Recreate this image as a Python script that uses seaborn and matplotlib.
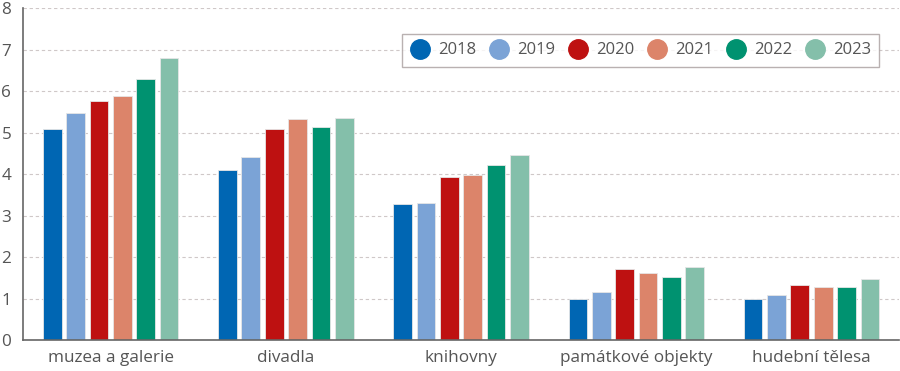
import matplotlib
matplotlib.use("Agg")
import matplotlib.pyplot as plt
from matplotlib.lines import Line2D
import seaborn as sns
import pandas as pd

categories = ["muzea a galerie", "divadla", "knihovny", "památkové objekty", "hudební tělesa"]
years = ["2018", "2019", "2020", "2021", "2022", "2023"]
values = {
    "2018": [5.08, 4.09, 3.28, 0.98, 0.99],
    "2019": [5.48, 4.40, 3.31, 1.16, 1.08],
    "2020": [5.76, 5.09, 3.94, 1.72, 1.32],
    "2021": [5.89, 5.33, 3.98, 1.61, 1.27],
    "2022": [6.30, 5.14, 4.21, 1.52, 1.28],
    "2023": [6.79, 5.34, 4.46, 1.77, 1.46],
}
colors = ["#0066b3", "#7ba3d6", "#be1111", "#dc846a", "#009270", "#84bfaa"]
yticks = [0, 1, 2, 3, 4, 5, 6, 7, 8]

rows = []
for y in years:
    for c, v in zip(categories, values[y]):
        rows.append({"kategorie": c, "rok": y, "hodnota": v})
df = pd.DataFrame(rows)

sns.set_theme(style="white")
plt.rcParams["font.family"] = ["Open Sans", "DejaVu Sans"]

fig = plt.figure(figsize=(9, 3.71), dpi=100)
ax = fig.add_axes([0.0256, 0.0836, 0.9734, 0.8944])

sns.barplot(data=df, x="kategorie", y="hodnota", hue="rok", order=categories,
            hue_order=years, palette=colors, width=0.8, gap=0.2, ax=ax,
            edgecolor="#e6e6e6", linewidth=0.6, legend=False, saturation=1)

ax.set_ylim(0, 8)
ax.set_yticks(yticks)
ax.set_xlim(-0.5, len(categories) - 0.5)
ax.set_xlabel("")
ax.set_ylabel("")
ax.yaxis.grid(True, linestyle=(0, (3, 2.5)), color="#cfc8c8", linewidth=0.8)
ax.set_axisbelow(True)
for s in ["top", "right"]:
    ax.spines[s].set_visible(False)
for s in ["left", "bottom"]:
    ax.spines[s].set_color("#666666")
    ax.spines[s].set_linewidth(1.2)
ax.tick_params(axis="both", length=0, labelsize=12.3, colors="#555555")
ax.tick_params(axis="x", pad=7)
ax.tick_params(axis="y", pad=8.5)

handles = [Line2D([0], [0], marker="o", linestyle="", markersize=14,
                  markerfacecolor=c, markeredgecolor=c) for c in colors]
leg = ax.legend(handles, years, ncol=6, loc="upper right",
                bbox_to_anchor=(0.987, 0.947), frameon=True, fancybox=False,
                edgecolor="#a89e9e", fontsize=12, handletextpad=0.5,
                columnspacing=0.75, borderpad=0.5, handlelength=1.2)
leg.get_frame().set_linewidth(1.0)
for t in leg.get_texts():
    t.set_color("#555555")

fig.savefig("out.png", dpi=100)
